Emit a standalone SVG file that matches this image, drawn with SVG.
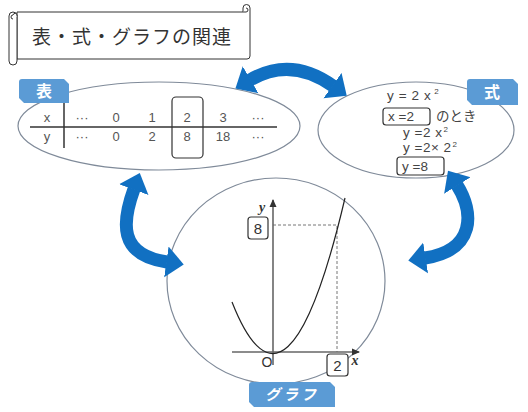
<svg xmlns="http://www.w3.org/2000/svg" width="528" height="412" viewBox="0 0 528 412">
<style>
.bub{fill:#fff;stroke:#7f8a99;stroke-width:1.2}
.tab{fill:#5b9bd5}
.tabt{fill:#fff;font-family:"Noto Sans CJK JP",sans-serif;font-weight:bold;text-anchor:middle}
.t{font-family:"Liberation Sans","Noto Sans CJK JP",sans-serif;font-size:13px;fill:#555;text-anchor:middle}
.f{font-family:"Liberation Sans","Noto Sans CJK JP",sans-serif;font-size:13.5px;fill:#444}
.box{fill:#fff;stroke:#333;stroke-width:1.2}
.ax{stroke:#666;stroke-width:1.6;fill:none}
.dash{stroke:#777;stroke-width:1;stroke-dasharray:3 2;fill:none}
.arr{fill:none;stroke:#1170c2;stroke-width:13;marker-start:url(#ah);marker-end:url(#ah)}
.scroll{fill:#fff;stroke:#333;stroke-width:1}
</style>
<defs>
<marker id="ah" markerUnits="strokeWidth" viewBox="0 -1.25 1.4 2.5" markerWidth="1.4" markerHeight="2.5" refX="0.05" refY="0" orient="auto-start-reverse">
<path d="M0,-1.2 L1.35,0 L0,1.2 Z" fill="#1170c2"/>
</marker>
<marker id="axh" markerUnits="userSpaceOnUse" viewBox="0 -4 8 8" markerWidth="8" markerHeight="8" refX="7" refY="0" orient="auto">
<path d="M0,-3.5 L8,0 L0,3.5 Z" fill="#333"/>
</marker>
</defs>
<rect width="528" height="412" fill="#fff"/>

<g id="title">
<path class="scroll" d="M17,12 H243 V8 A3.5,3.5 0 0 1 250,8 V56 A3,3 0 0 1 247,59 H17 Z"/>
<path class="scroll" d="M243,12 H246 A2,2 0 0 0 246,8"/>
<path class="scroll" d="M13,12 A4,4 0 0 0 9,16 V61 A4,4 0 0 0 17,61 V16 A4,4 0 0 0 13,12 Z"/>
<path class="scroll" d="M13,19 A2,2 0 0 1 13,15 A2,2 0 0 1 17,16"/>
<text x="32" y="44" font-family="'Noto Sans CJK JP',sans-serif" font-size="19" letter-spacing="1" fill="#333">表・式・グラフの関連</text>
</g>

<g id="table-node">
<ellipse class="bub" cx="159" cy="126" rx="141" ry="44"/>
<line x1="30" y1="127" x2="277" y2="127" stroke="#333" stroke-width="1.5"/>
<line x1="64" y1="103" x2="64" y2="148" stroke="#333" stroke-width="1.5"/>
<rect x="172" y="97" width="31" height="61" rx="4" fill="none" stroke="#333" stroke-width="1.2"/>
<g class="t">
<text x="47" y="122">x</text><text x="82" y="122">···</text><text x="116" y="122">0</text><text x="152" y="122">1</text><text x="187" y="122">2</text><text x="223" y="122">3</text><text x="258" y="122">···</text>
<text x="47" y="141">y</text><text x="82" y="141">···</text><text x="116" y="141">0</text><text x="152" y="141">2</text><text x="187" y="141">8</text><text x="223" y="141">18</text><text x="258" y="141">···</text>
</g>
<path class="tab" d="M22,79 H64 L69,84 V103 H24 L19,98 V82 Q19,79 22,79 Z"/>
<text class="tabt" x="44" y="97" font-size="16">表</text>
</g>

<g id="formula-node">
<ellipse class="bub" cx="416" cy="130" rx="98" ry="48"/>
<text class="f" x="387" y="100" letter-spacing="0.6">y = 2 x<tspan font-size="8" dy="-6" dx="3">2</tspan></text>
<rect class="box" x="383" y="108" width="47" height="17" rx="3"/>
<text class="f" x="388" y="121">x =2</text>
<text class="f" x="436" y="121" font-family="'Noto Sans CJK JP',sans-serif" font-size="12.5">のとき</text>
<text class="f" x="403" y="137" letter-spacing="0.5">y =2 x<tspan font-size="8" dy="-5" dx="1">2</tspan></text>
<text class="f" x="403" y="152" letter-spacing="0.5">y =2× 2<tspan font-size="8" dy="-5" dx="1">2</tspan></text>
<rect class="box" x="397" y="157" width="47" height="18" rx="3"/>
<text class="f" x="402" y="171">y =8</text>
<path class="tab" d="M470,79 H513 L518,84 V105 H472 L467,100 V82 Q467,79 470,79 Z"/>
<text class="tabt" x="492" y="98" font-size="16">式</text>
</g>

<g id="graph-node">
<ellipse class="bub" cx="276" cy="281" rx="109" ry="103"/>
<path class="dash" d="M273,225 H337 V352"/>
<line class="ax" x1="232" y1="352" x2="359" y2="352" marker-end="url(#axh)"/>
<line class="ax" x1="273" y1="365" x2="273" y2="200" marker-end="url(#axh)"/>
<path d="M232,302 Q287.5,443 345,198" fill="none" stroke="#222" stroke-width="1.2"/>
<rect class="box" x="248" y="217" width="20" height="22" rx="3"/>
<text x="258" y="234" font-family="'Liberation Sans',sans-serif" font-size="15" fill="#333" text-anchor="middle">8</text>
<rect class="box" x="327" y="354" width="21" height="22" rx="3"/>
<text x="337.5" y="371" font-family="'Liberation Sans',sans-serif" font-size="15" fill="#333" text-anchor="middle">2</text>
<text x="267" y="367" font-family="'Liberation Sans',sans-serif" font-size="14" fill="#333" text-anchor="middle">O</text>
<text x="262" y="212" font-family="'Liberation Serif',serif" font-style="italic" font-weight="bold" font-size="14" fill="#333" text-anchor="middle">y</text>
<text x="355" y="365" font-family="'Liberation Serif',serif" font-style="italic" font-weight="bold" font-size="14" fill="#333" text-anchor="middle">x</text>
<path class="tab" d="M252,382 H330 L335,387 V407 H254 L249,402 V385 Q249,382 252,382 Z"/>
<text class="tabt" x="292" y="400" font-size="15" letter-spacing="3" font-style="italic">グラフ</text>
</g>

<g id="connectors">
<path class="arr" d="M250,80 Q291,56 333,86"/>
<path class="arr" d="M134,189 C122,222 118,255 167,262"/>
<path class="arr" d="M457,185 C474,212 476,250 425,258"/>
</g>
</svg>
